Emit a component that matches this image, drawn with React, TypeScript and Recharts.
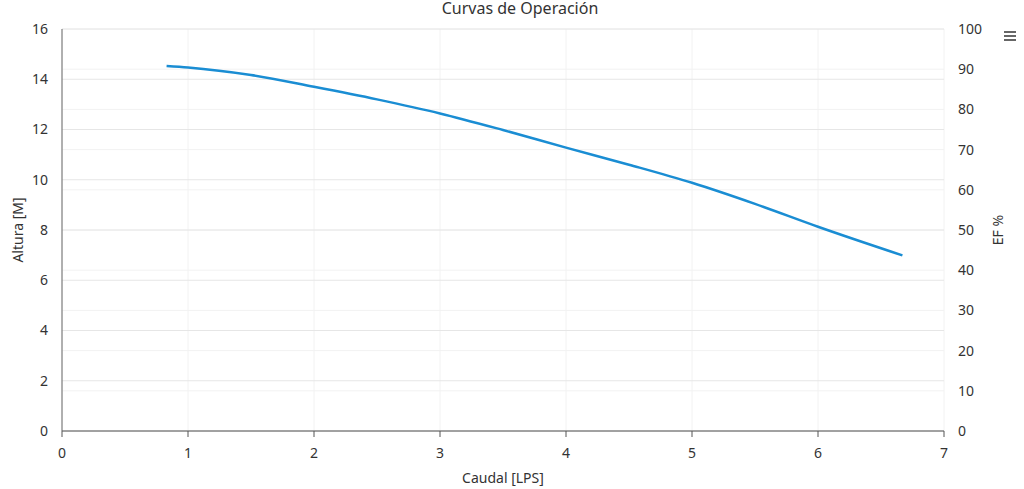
import { LineChart, Line, XAxis, YAxis, CartesianGrid } from 'recharts'

const caudal = [0.83, 1.0, 1.5, 2.0, 2.5, 3.0, 3.5, 4.0, 4.5, 5.0, 5.5, 6.0, 6.67]
const altura = [14.53, 14.47, 14.17, 13.7, 13.2, 12.64, 11.98, 11.28, 10.6, 9.88, 9.04, 8.13, 6.99]

const xTicks = [0, 1, 2, 3, 4, 5, 6, 7]
const alturaTicks = [0, 2, 4, 6, 8, 10, 12, 14, 16]
const efTicks = [0, 10, 20, 30, 40, 50, 60, 70, 80, 90, 100]

const data = caudal.map((q, i) => ({ q, h: altura[i], ef: null }))

const font = '"Noto Sans", sans-serif'
const tickStyle = { fill: '#333333', fontSize: 14, fontFamily: font }

// axis titles drawn as html so they can sit exactly where the original has them
function AxisTitle({ text, x, y, rotate }: { text: string; x: number; y: number; rotate?: boolean }) {
  return (
    <div
      style={{
        position: 'absolute',
        left: x - 100,
        top: y - 10,
        width: 200,
        height: 20,
        lineHeight: '20px',
        textAlign: 'center',
        fontSize: 14,
        color: '#333333',
        transform: rotate ? 'rotate(-90deg)' : undefined,
        zIndex: 2,
      }}
    >
      {text}
    </div>
  )
}

export default function App() {
  return (
    <div style={{ position: 'absolute', top: 0, left: 0, width: 1024, height: 489, background: '#fff', fontFamily: font }}>
      <div
        style={{
          position: 'absolute',
          top: 0,
          left: 0,
          width: 1040,
          textAlign: 'center',
          fontSize: 16,
          lineHeight: '16px',
          color: '#333333',
        }}
      >
        Curvas de Operación
      </div>
      <div style={{ position: 'absolute', top: 31, left: 1004, width: 12 }}>
        {[0, 1, 2].map((k) => (
          <div key={k} style={{ height: 2, background: '#666', marginBottom: 2 }} />
        ))}
      </div>
      <AxisTitle text="Altura [M]" x={18} y={230} rotate />
      <AxisTitle text="EF %" x={998} y={230} rotate />
      <AxisTitle text="Caudal [LPS]" x={503} y={478} />
      <LineChart width={1024} height={489} data={data} margin={{ top: 29, right: 0, bottom: 0, left: 0 }}>
        <CartesianGrid yAxisId="right" stroke="#f2f2f2" horizontal vertical />
        <CartesianGrid yAxisId="left" stroke="#e6e6e6" vertical={false} />
        <XAxis
          dataKey="q"
          type="number"
          domain={[0, 7]}
          ticks={xTicks}
          height={58}
          tick={tickStyle}
          tickSize={6}
          tickMargin={11}
          stroke="#555555"
        />
        <YAxis
          yAxisId="left"
          type="number"
          domain={[0, 16]}
          ticks={alturaTicks}
          width={62}
          tick={tickStyle}
          tickLine={false}
          tickSize={6}
          tickMargin={8}
          stroke="#666666"
        />
        <YAxis
          yAxisId="right"
          orientation="right"
          type="number"
          domain={[0, 100]}
          ticks={efTicks}
          width={80}
          tick={{ ...tickStyle, textAnchor: 'start' }}
          axisLine={false}
          tickLine={false}
          tickSize={6}
          tickMargin={8}
          allowDataOverflow
        />
        <Line
          yAxisId="right"
          dataKey="ef"
          stroke="none"
          dot={false}
          activeDot={false}
          legendType="none"
          isAnimationActive={false}
        />
        <Line
          yAxisId="left"
          type="monotone"
          dataKey="h"
          stroke="#1a8dd3"
          strokeWidth={2.5}
          dot={false}
          activeDot={false}
          isAnimationActive={false}
        />
      </LineChart>
    </div>
  )
}
